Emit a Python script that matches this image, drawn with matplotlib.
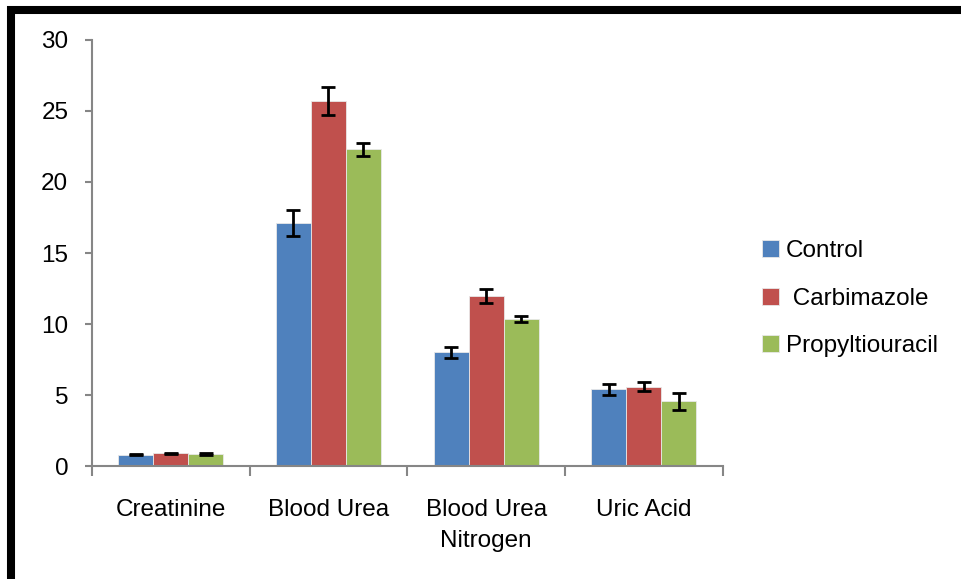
import matplotlib
matplotlib.use("Agg")
from matplotlib import pyplot as plt
from matplotlib.patches import Rectangle
import numpy as np

plt.rcParams['font.family'] = ['Liberation Sans Narrow', 'Liberation Sans', 'DejaVu Sans']

categories = ["Creatinine", "Blood Urea", "Blood Urea\nNitrogen", "Uric Acid"]
series = ["Control", " Carbimazole", "Propyltiouracil"]
control = [0.8, 17.1, 8.0, 5.4]
control_err = [0.05, 0.9, 0.4, 0.4]
carbimazole = [0.9, 25.7, 12.0, 5.6]
carbimazole_err = [0.05, 1.0, 0.5, 0.3]
ptu = [0.85, 22.3, 10.35, 4.55]
ptu_err = [0.05, 0.45, 0.2, 0.6]
yticks = [0, 5, 10, 15, 20, 25, 30]

colors = ["#4F81BD", "#C0504D", "#9BBB59"]

fig = plt.figure(figsize=(9.61, 5.79), dpi=100)
ax = fig.add_axes([0.0957, 0.195, 0.6563, 0.736])

x = np.arange(len(categories)) + 0.5
w = 0.222
values = [control, carbimazole, ptu]
errors = [control_err, carbimazole_err, ptu_err]
for i in range(3):
    ax.bar(x + (i - 1) * w, values[i], w, color=colors[i], edgecolor="#e8e8e8",
           linewidth=0.6, label=series[i], zorder=2)
    ax.errorbar(x + (i - 1) * w, values[i], yerr=errors[i], fmt="none",
                ecolor="black", elinewidth=2, capsize=5, capthick=2, zorder=3)

ax.set_xlim(0, 4)
ax.set_ylim(0, 30)
ax.set_yticks(yticks)
ax.set_xticks(x)
ax.set_xticklabels(categories, linespacing=1.5)
ax.set_xticks(np.arange(5), minor=True)
ax.tick_params(axis="x", which="major", length=0, pad=24, labelsize=17.5)
ax.tick_params(axis="x", which="minor", length=7, width=1.5, color="#868686", direction="out")
ax.tick_params(axis="y", length=5, width=1.5, color="#868686", labelsize=17.5, pad=12)
for side in ["top", "right"]:
    ax.spines[side].set_visible(False)
for side in ["left", "bottom"]:
    ax.spines[side].set_color("#868686")
    ax.spines[side].set_linewidth(1.5)

leg = fig.legend(loc="center left", bbox_to_anchor=(0.770, 0.484), frameon=False,
                 fontsize=17.5, handlelength=0.7, handleheight=0.7, handletextpad=0.3,
                 labelspacing=1.05)

fig.patches.append(Rectangle((11 / 961, -0.2), 1.2, 1 - 10.5 / 579 + 0.2,
                             transform=fig.transFigure, fill=False,
                             edgecolor="black", linewidth=5.8))

fig.savefig("out.png", dpi=100)
